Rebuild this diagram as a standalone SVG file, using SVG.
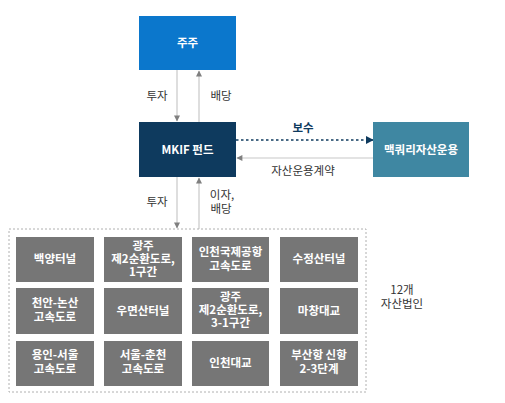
<svg xmlns="http://www.w3.org/2000/svg" width="505" height="403" viewBox="0 0 505 403">
<style>
text{font-family:"Malgun Gothic","Noto Sans CJK KR",sans-serif;font-size:11.5px;text-anchor:middle}
.w{fill:#fff;font-weight:bold}
.lb{fill:#333}
.ast{fill:#767676}
.ln{stroke:#c8c8c8;stroke-width:1.2;fill:none}
</style>
<defs>
<marker id="ag" viewBox="0 0 10 10" refX="9" refY="5" markerWidth="8" markerHeight="6" orient="auto" markerUnits="userSpaceOnUse"><path d="M0,0L10,5L0,10z" fill="#7f7f7f"/></marker>
<marker id="an" viewBox="0 0 10 10" refX="9" refY="5" markerWidth="8" markerHeight="8" orient="auto" markerUnits="userSpaceOnUse"><path d="M0,0L10,5L0,10z" fill="#0e3a5e"/></marker>
</defs>
<g id="connectors">
<line class="ln" x1="177" y1="70" x2="177" y2="121" marker-end="url(#ag)"/>
<line class="ln" x1="199" y1="122" x2="199" y2="71" marker-end="url(#ag)"/>
<line class="ln" x1="177" y1="177" x2="177" y2="228" marker-end="url(#ag)"/>
<line class="ln" x1="199" y1="229" x2="199" y2="178" marker-end="url(#ag)"/>
<line x1="236" y1="140" x2="373" y2="140" stroke="#0e3a5e" stroke-width="1.5" stroke-dasharray="2.5,2.5" marker-end="url(#an)"/>
<line class="ln" x1="373" y1="158" x2="237" y2="158" marker-end="url(#ag)"/>
<text class="lb" x="157" y="100">투자</text>
<text class="lb" x="221" y="100">배당</text>
<text x="303" y="132" fill="#0e3a5e" font-weight="bold">보수</text>
<text class="lb" x="303" y="175">자산운용계약</text>
<text class="lb" x="157" y="206">투자</text>
<text class="lb" x="222" y="199">이자,<tspan x="221" dy="14">배당</tspan></text>
</g>
<g id="shareholders"><rect x="139" y="16" width="97" height="54" fill="#0b77cc"/><text class="w" x="187.5" y="47">주주</text></g>
<g id="mkif"><rect x="139" y="122" width="97" height="55" fill="#0e3a5e"/><text class="w" x="187.5" y="154">MKIF 펀드</text></g>
<g id="macquarie"><rect x="373" y="122" width="96" height="55" fill="#3f87a2"/><text class="w" x="421" y="154">맥쿼리자산운용</text></g>
<g id="assets">
<rect x="9" y="229" width="357" height="163" fill="none" stroke="#b0b0b0" stroke-dasharray="2,2"/>
<g id="a1"><rect class="ast" x="16" y="237" width="78" height="45"/><text class="w" x="55" y="263">백양터널</text></g>
<g id="a2"><rect class="ast" x="104" y="237" width="78" height="45"/><text class="w" x="143" y="250">광주<tspan x="143" dy="13">제2순환도로,</tspan><tspan x="143" dy="13">1구간</tspan></text></g>
<g id="a3"><rect class="ast" x="192" y="237" width="77" height="45"/><text class="w" x="230.5" y="256">인천국제공항<tspan x="230.5" dy="14">고속도로</tspan></text></g>
<g id="a4"><rect class="ast" x="280" y="237" width="78" height="45"/><text class="w" x="319" y="263">수정산터널</text></g>
<g id="a5"><rect class="ast" x="16" y="288" width="78" height="46"/><text class="w" x="55" y="307">천안-논산<tspan x="55" dy="14">고속도로</tspan></text></g>
<g id="a6"><rect class="ast" x="104" y="288" width="78" height="46"/><text class="w" x="143" y="315">우면산터널</text></g>
<g id="a7"><rect class="ast" x="192" y="288" width="77" height="46"/><text class="w" x="230.5" y="301">광주<tspan x="230.5" dy="13">제2순환도로,</tspan><tspan x="230.5" dy="13">3-1구간</tspan></text></g>
<g id="a8"><rect class="ast" x="280" y="288" width="78" height="46"/><text class="w" x="319" y="315">마창대교</text></g>
<g id="a9"><rect class="ast" x="16" y="341" width="78" height="45"/><text class="w" x="55" y="359">용인-서울<tspan x="55" dy="14">고속도로</tspan></text></g>
<g id="a10"><rect class="ast" x="104" y="341" width="78" height="45"/><text class="w" x="143" y="359">서울-춘천<tspan x="143" dy="14">고속도로</tspan></text></g>
<g id="a11"><rect class="ast" x="192" y="341" width="77" height="45"/><text class="w" x="230.5" y="367">인천대교</text></g>
<g id="a12"><rect class="ast" x="280" y="341" width="78" height="45"/><text class="w" x="319" y="359">부산항 신항<tspan x="319" dy="14">2-3단계</tspan></text></g>
<text class="lb" x="402" y="294">12개<tspan x="402" dy="14">자산법인</tspan></text>
</g>
</svg>
